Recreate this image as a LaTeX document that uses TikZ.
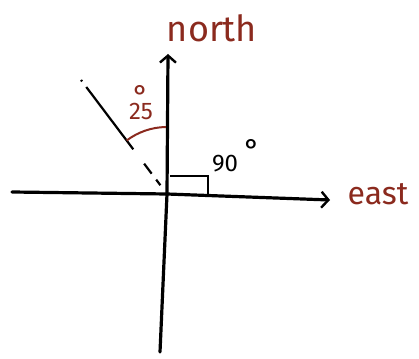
\documentclass[tikz,border=0pt]{standalone}
\usepackage{fontspec}
\newfontfamily\handfont{Fira Sans}
\usepackage{tikz}
\usetikzlibrary{positioning, arrows.meta, calc}
\definecolor{ink}{HTML}{8B2A1E}
\tikzset{
  axisline/.style={line width=3.2pt, black, line cap=round},
  boxline/.style={line width=2.2pt, black},
  rayline/.style={line width=2.2pt, black},
  arcline/.style={line width=2pt, ink},
  dirlabel/.style={font=\handfont\fontsize{36}{38}\selectfont, text=ink, inner sep=0pt},
  anglabel/.style={font=\handfont\fontsize{24}{26}\selectfont, inner sep=0pt},
  degsign/.style={font=\handfont\fontsize{30}{32}\selectfont, inner sep=0pt},
  tip/.style={-{Straight Barb[length=7pt, width=16pt, line width=2.4pt]}}
}
\begin{document}
\begin{tikzpicture}[x=1pt, y=1pt]
        \useasboundingbox (0,0) rectangle (419,358);
        % Axes crossing and end points
        \coordinate (o) at (167,164);
        \coordinate (west) at (12,166);
        \coordinate (eastend) at (330,158);
        \coordinate (northend) at (168,304);
        \coordinate (south) at (160,6);
        \coordinate (ray) at (81,278);
        % Axes
        \draw[axisline, tip] (west) -- (o) -- (eastend);
        \draw[axisline, tip] (south) -- (o) -- (northend);
        % Labels of the directions
        \node[dirlabel] (north) at (212,330) {north};
        \node[dirlabel, font=\handfont\fontsize{32}{34}\selectfont] (east) at (378,164) {east};
        % Right angle box
        \coordinate (boxa) at (170,182);
        \coordinate (boxb) at (208,182);
        \coordinate (boxc) at (208,161);
        \draw[boxline] (boxa) -- (boxb) -- (boxc);
        \node[anglabel] (ninety) at (225,194) {90};
        \node[degsign] (degninety) at ($(ninety.north east)+(14,5)$) {°};
        % Ray 25 deg off north, broken near the axes
        \draw[rayline, dash pattern={on 0pt off 11pt on 7pt off 7.5pt on 12.5pt off 18pt on 78pt off 7pt on 2.5pt off 60pt}] (o) -- (ray);
        \draw[arcline] (o) ++(127:67) arc[start angle=127, end angle=91, radius=67];
        \node[anglabel, text=ink] (twentyfive) at (141,246) {25};
        \node[degsign, text=ink] (degtwentyfive) at ($(twentyfive.north)+(0,8)$) {°};
      \end{tikzpicture}
\end{document}
